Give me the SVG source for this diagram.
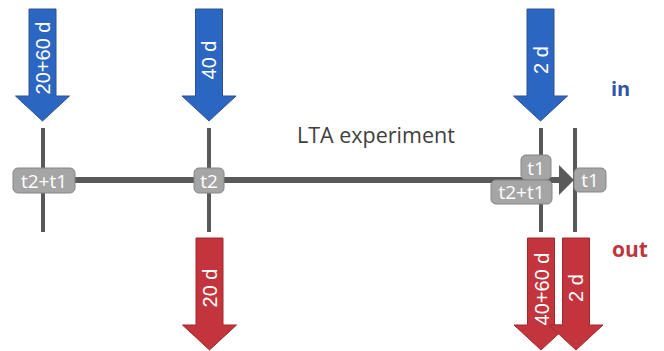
<svg xmlns="http://www.w3.org/2000/svg" width="664" height="351" viewBox="0 0 664 351">
<defs>
<style>
.ln{stroke:#595959;fill:none}
.v{stroke-width:4}
.blue{fill:#2C66C3;stroke:#2F528F;stroke-width:1}
.red{fill:#C3343C;stroke:#9E2A2F;stroke-width:1}
.at{fill:#fff;font-family:"Liberation Sans",Arial,sans-serif;font-size:20px;text-anchor:middle;dominant-baseline:central}
.box{fill:#A5A5A5;stroke:#858585;stroke-width:1}
.bt{fill:#fff;font-family:"Open Sans",sans-serif;font-size:19px;text-anchor:middle;dominant-baseline:central}
</style>
<path id="arr" d="M-13.5,0 H13.5 V87 H27 L0,112 L-27,87 H-13.5 Z"/>
</defs>
<rect width="664" height="351" fill="#fff"/>
<g id="connectors">
<line class="ln" x1="43" y1="180" x2="562" y2="180" stroke-width="6"/>
<polygon points="559,165 574,180 559,195" fill="#595959"/>
<line class="ln v" x1="43" y1="128" x2="43" y2="232"/>
<line class="ln v" x1="209" y1="128" x2="209" y2="232"/>
<line class="ln v" x1="541" y1="128" x2="541" y2="232"/>
<line class="ln v" x1="575" y1="128" x2="575" y2="232"/>
</g>
<g id="in1"><use href="#arr" class="blue" transform="translate(42.5,9)"/><text class="at" transform="translate(43,58) rotate(-90)">20+60 d</text></g>
<g id="in2"><use href="#arr" class="blue" transform="translate(209,9)"/><text class="at" transform="translate(209,60) rotate(-90)">40 d</text></g>
<g id="in3"><use href="#arr" class="blue" transform="translate(540.5,9)"/><text class="at" transform="translate(541,60) rotate(-90)">2 d</text></g>
<g id="out1"><use href="#arr" class="red" transform="translate(209.5,238)"/><text class="at" transform="translate(210,288) rotate(-90)">20 d</text></g>
<g id="out2"><use href="#arr" class="red" transform="translate(541,238)"/><text class="at" transform="translate(542,289) rotate(-90)">40+60 d</text></g>
<g id="out3"><use href="#arr" class="red" transform="translate(576,238)"/><text class="at" transform="translate(576,288) rotate(-90)">2 d</text></g>
<g id="lbl-in"><text x="611" y="96" font-family="'Open Sans',sans-serif" font-size="20" font-weight="bold" fill="#2F55A8">in</text></g>
<g id="lbl-out"><text x="612" y="257" font-family="'Open Sans',sans-serif" font-size="21" font-weight="bold" fill="#C0343B">out</text></g>
<g id="title"><text x="297" y="143" font-family="'Open Sans',sans-serif" font-size="21.5" fill="#404040">LTA experiment</text></g>
<g id="t-a"><rect class="box" x="13" y="168" width="62" height="25" rx="5"/><text class="bt" x="44" y="180.5">t2+t1</text></g>
<g id="t-b"><rect class="box" x="194" y="168" width="30" height="25" rx="5"/><text class="bt" x="209" y="180.5">t2</text></g>
<g id="t-c"><rect class="box" x="521" y="155" width="30" height="25" rx="5"/><text class="bt" x="536" y="167.5">t1</text></g>
<g id="t-d"><rect class="box" x="491" y="180" width="61" height="24" rx="5"/><text class="bt" x="521.5" y="192">t2+t1</text></g>
<g id="t-e"><rect class="box" x="574" y="168" width="32" height="24" rx="5"/><text class="bt" x="590" y="180">t1</text></g>
</svg>
